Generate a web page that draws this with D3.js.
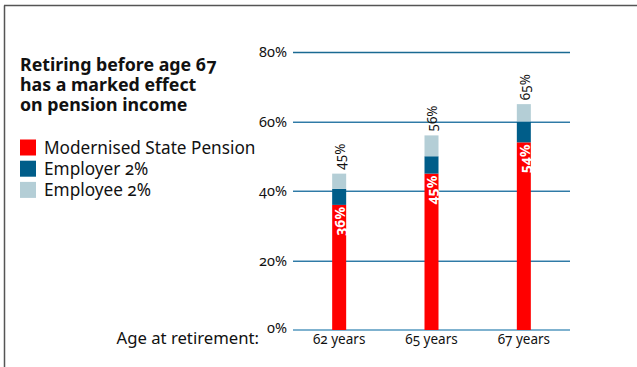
<!DOCTYPE html>
<html>
<head>
<meta charset="utf-8">
<script src="https://cdn.jsdelivr.net/npm/d3@7"></script>
<style>
  html, body { margin: 0; padding: 0; background: #fff; }
  svg { display: block; font-family: "Noto Sans", sans-serif; font-variant-numeric: oldstyle-nums; font-feature-settings: "onum"; }
</style>
</head>
<body>
<svg id="chart" width="637" height="367"></svg>
<script>
// Replacement rate by retirement age, stacked by pension source (% of income)
const ages = ["62 years", "65 years", "67 years"];
const statePension = [36, 45, 54];
const employer = [4.6, 5, 6];
const employee = [4.4, 6, 5];
const totalLabels = ["45%", "56%", "65%"];
const stateLabels = ["36%", "45%", "54%"];
const seriesNames = ["Modernised State Pension", "Employer 2%", "Employee 2%"];
const yTicks = [0, 20, 40, 60, 80];

const colors = ["#ff0000", "#005d89", "#b4ced6"];

const svg = d3.select("#chart");

// frame
svg.append("line").attr("x1", 4.5).attr("x2", 4.5).attr("y1", 5.5).attr("y2", 367)
  .attr("stroke", "#555").attr("stroke-width", 1.5);
svg.append("line").attr("x1", 4).attr("x2", 637).attr("y1", 5.5).attr("y2", 5.5)
  .attr("stroke", "#555").attr("stroke-width", 1.5);

const x = d3.scaleBand().domain(ages).range([293, 570]).padding(0);
const y = d3.scaleLinear().domain([0, 80]).range([330, 52]);
const barW = 14;

// gridlines: top line dark, inner lines two-tone, baseline light
const grid = svg.append("g");
yTicks.forEach(v => {
  const yy = Math.round(y(v));
  if (v === 80) {
    grid.append("line").attr("x1", 293).attr("x2", 570).attr("y1", yy + 0.5).attr("y2", yy + 0.5)
      .attr("stroke", "#1a6a92").attr("stroke-width", 1.4);
  } else if (v === 0) {
    grid.append("line").attr("x1", 293).attr("x2", 570).attr("y1", yy).attr("y2", yy)
      .attr("stroke", "#7fb2cf").attr("stroke-width", 2);
  } else {
    grid.append("line").attr("x1", 293).attr("x2", 570).attr("y1", yy - 0.5).attr("y2", yy - 0.5)
      .attr("stroke", "#9cc0d6").attr("stroke-width", 1);
    grid.append("line").attr("x1", 293).attr("x2", 570).attr("y1", yy + 0.5).attr("y2", yy + 0.5)
      .attr("stroke", "#2f7aa6").attr("stroke-width", 1);
  }
});

// y tick labels
svg.append("g").selectAll("text").data(yTicks).join("text")
  .attr("x", 287).attr("y", d => y(d) - (d === 0 ? 2 : 0))
  .attr("dy", "0.35em")
  .attr("text-anchor", "end")
  .attr("font-size", 14.5).attr("fill", "#111")
  .text(d => d + "%");

// stacked bars
const rows = ages.map((a, i) => ({ age: a, s: statePension[i], er: employer[i], ee: employee[i] }));
const stacked = d3.stack().keys(["s", "er", "ee"])(rows);
svg.append("g").selectAll("g").data(stacked).join("g")
  .attr("fill", (d, i) => colors[i])
  .selectAll("rect").data(d => d).join("rect")
  .attr("x", d => x(d.data.age) + x.bandwidth() / 2 - barW / 2)
  .attr("width", barW)
  .attr("y", d => y(d[1]))
  .attr("height", d => y(d[0]) - y(d[1]));

// total labels above bars
const topLayer = stacked[stacked.length - 1];
svg.append("g").selectAll("text").data(topLayer).join("text")
  .attr("transform", d => `translate(${x(d.data.age) + x.bandwidth() / 2 + 1},${y(d[1]) - 4}) rotate(-90)`)
  .attr("dy", "0.35em")
  .attr("font-size", 13.5).attr("fill", "#111")
  .text((d, i) => totalLabels[i]);

// state pension labels inside red segment
svg.append("g").selectAll("text").data(stacked[0]).join("text")
  .attr("transform", d => `translate(${x(d.data.age) + x.bandwidth() / 2 + 1},${y(d[1]) + 2}) rotate(-90)`)
  .attr("dy", "0.35em")
  .attr("text-anchor", "end")
  .attr("font-size", 14).attr("font-weight", "bold").attr("fill", "#fff")
  .text((d, i) => stateLabels[i]);

// category labels
svg.append("g").selectAll("text").data(ages).join("text")
  .attr("x", d => x(d) + x.bandwidth() / 2).attr("y", 344)
  .attr("text-anchor", "middle")
  .attr("font-size", 13.5).attr("fill", "#111")
  .text(d => d);

svg.append("text").attr("x", 259).attr("y", 344).attr("text-anchor", "end")
  .attr("font-size", 16.7).attr("fill", "#111").text("Age at retirement:");

// title
const title = ["Retiring before age 67", "has a marked effect", "on pension income"];
svg.append("g").selectAll("text").data(title).join("text")
  .attr("x", 20).attr("y", (d, i) => 70.5 + i * 20.4)
  .attr("font-size", 17.8).attr("font-weight", "bold").attr("fill", "#111")
  .text(d => d);

// legend
const lg = svg.append("g").selectAll("g").data(seriesNames).join("g")
  .attr("transform", (d, i) => `translate(20,${139.5 + i * 21.2})`);
lg.append("rect").attr("width", 16).attr("height", 16).attr("fill", (d, i) => colors[i]);
lg.append("text").attr("x", 24).attr("y", 14.5)
  .attr("font-size", 17.2).attr("fill", "#111").text(d => d);
</script>
</body>
</html>
